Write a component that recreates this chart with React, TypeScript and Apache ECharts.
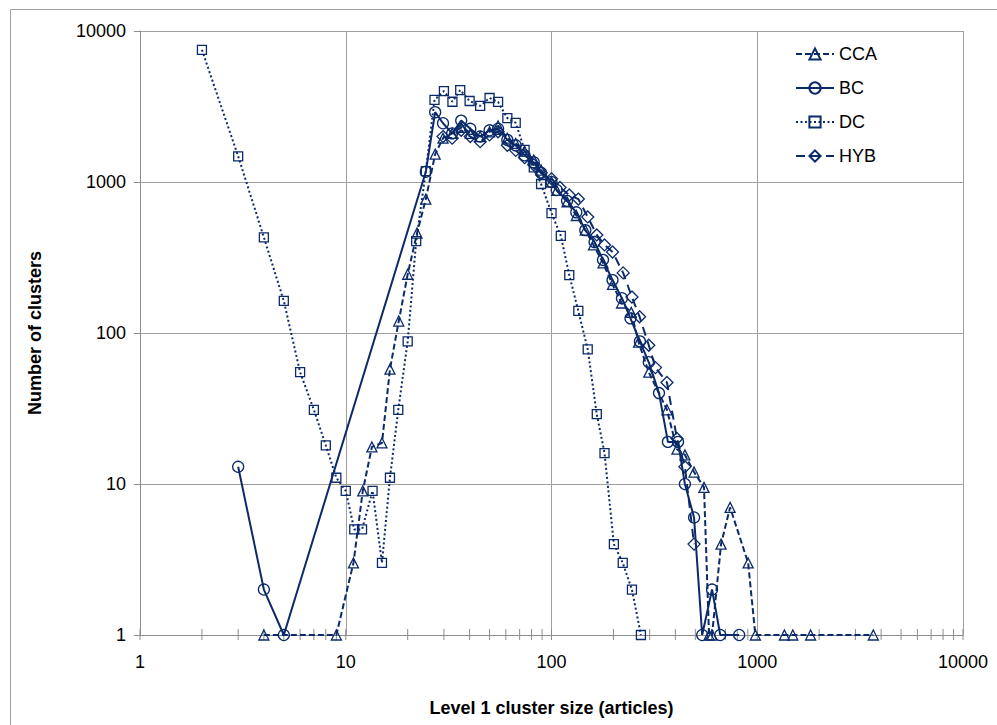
import React, { useEffect, useRef } from "react";
import * as echarts from "echarts";

// ---- Data ----
const ccaX = [4, 9, 10.9, 12.1, 13.4, 15, 16.4, 18.1, 20, 22.2, 24.5, 27.2, 29.7, 32.9, 36.4, 40.3, 45, 50, 55, 61, 67, 74, 82, 89, 100, 106, 119, 132, 146, 160, 178, 198, 219, 244, 265, 297, 364, 407, 445, 493, 551, 583, 603, 667, 738, 903, 979, 1355, 1489, 1817, 3665];
const ccaY = [1, 1, 3, 9, 17.6, 18.7, 57.6, 120, 245, 459, 770, 1530, 1950, 2100, 2300, 2100, 2000, 2150, 2350, 1950, 1800, 1600, 1400, 1200, 1000, 880, 740, 600, 480, 383, 291, 210, 158, 137, 87, 55, 31, 17, 15.6, 12, 9.5, 1, 1, 4, 7, 3, 1, 1, 1, 1, 1];

const bcX = [3, 4, 5, 24.5, 27.2, 29.7, 32.9, 36.4, 40.3, 45, 50, 55, 61, 67, 74, 82, 89, 100, 106, 119, 132, 146, 162, 178, 198, 220, 242, 269, 297, 333, 368, 412, 445, 493, 540, 603, 661, 817];
const bcY = [13, 2, 1, 1170, 2900, 2450, 2100, 2550, 2250, 2000, 2200, 2250, 1900, 1750, 1500, 1350, 1150, 1000, 885, 750, 630, 480, 400, 305, 224, 170, 125, 88, 64, 40, 19, 19, 10, 6, 1, 2, 1, 1];

const dcX = [2, 3, 4, 5, 6, 7, 8, 9, 10, 11, 12, 13.5, 15, 16.4, 18, 20, 22, 24.5, 27, 30, 33, 36, 40, 45, 50, 55, 61, 67, 74, 82, 89, 100, 111, 122, 135, 150, 166, 181, 201, 222, 246, 272];
const dcY = [7500, 1480, 430, 163, 55, 31, 18, 11, 9, 5, 5, 9, 3, 11, 31, 88, 406, 1180, 3500, 4000, 3400, 4060, 3440, 3190, 3600, 3390, 2650, 2460, 1630, 1250, 970, 623, 440, 242, 140, 78, 29, 16, 4, 3, 2, 1];

const hybX = [29.7, 32.9, 36.4, 40.3, 45, 50, 55, 61, 67, 74, 82, 89, 100, 110, 122, 135, 150, 166, 181, 198, 223, 246, 268, 297, 320, 364, 407, 445, 493];
const hybY = [2000, 1950, 2200, 2000, 1850, 2050, 2150, 1750, 1620, 1450, 1300, 1150, 1050, 920, 820, 771, 587, 446, 383, 344, 250, 173, 128, 83, 59, 47, 20, 13, 4];

const xTickLabels = [1, 10, 100, 1000, 10000];
const yTickLabels = [1, 10, 100, 1000, 10000];
const minorMultipliers = [1, 2, 3, 4, 5, 6, 7, 8, 9];

const NAVY = "#0b2a6a";
const FONT = "'Liberation Sans', Arial, sans-serif";

function zip(xs: number[], ys: number[]) {
  return xs.map((x, i) => [x, ys[i]]);
}

export default function App() {
  const ref = useRef<HTMLDivElement>(null);

  useEffect(() => {
    if (!ref.current) return;
    const chart = echarts.init(ref.current, undefined, { renderer: "svg" });

    const tickVals: number[][] = [];
    [1, 10, 100, 1000].forEach((d) => minorMultipliers.forEach((m) => tickVals.push([d * m, 1])));
    tickVals.push([10000, 1]);

    const markerStyle = { color: "rgba(255,255,255,0)", borderColor: NAVY, borderWidth: 1.3 };

    const fmt = (v: number) => {
      const r = Math.round(v);
      return xTickLabels.includes(r) || yTickLabels.includes(r) ? String(r) : "";
    };

    chart.setOption({
      animation: false,
      backgroundColor: "#fff",
      textStyle: { fontFamily: FONT },
      graphic: [
        {
          type: "rect",
          shape: { x: 10.5, y: 9.5, width: 1100, height: 900 },
          style: { fill: "none", stroke: "#a0a0a0", lineWidth: 1 },
          silent: true,
          z: -1,
        },
      ],
      grid: { left: 140, right: 34, top: 31, bottom: 90 },
      legend: {
        orient: "vertical",
        left: 795,
        top: 45,
        itemWidth: 38,
        itemHeight: 14,
        itemGap: 16,
        padding: 0,
        data: ["CCA", "BC", "DC", "HYB"],
        textStyle: { fontSize: 18, color: "#000", fontFamily: FONT },
      },
      xAxis: {
        type: "log",
        logBase: 10,
        min: 1,
        max: 10000,
        name: "Level 1 cluster size (articles)",
        nameLocation: "middle",
        nameGap: 64,
        nameTextStyle: { fontSize: 18, fontWeight: "bold", color: "#000", fontFamily: FONT },
        axisLine: { show: true, lineStyle: { color: "#8c8c8c", width: 1 } },
        axisTick: { show: false },
        axisLabel: { fontSize: 18, color: "#000", margin: 18, formatter: fmt, fontFamily: FONT },
        splitLine: { show: true, lineStyle: { color: "#a0a0a0", width: 1 } },
        minorTick: { show: false },
      },
      yAxis: {
        type: "log",
        logBase: 10,
        min: 1,
        max: 10000,
        name: "Number of clusters",
        nameLocation: "middle",
        nameGap: 96,
        nameTextStyle: { fontSize: 18, fontWeight: "bold", color: "#000", fontFamily: FONT },
        axisLine: { show: true, lineStyle: { color: "#8c8c8c", width: 1 } },
        axisTick: { show: true, inside: false, length: 6, lineStyle: { color: "#8c8c8c" } },
        axisLabel: { fontSize: 18, color: "#000", margin: 14, formatter: fmt, fontFamily: FONT },
        splitLine: { show: true, lineStyle: { color: "#a0a0a0", width: 1 } },
      },
      series: [
        {
          name: "xticks",
          type: "custom",
          silent: true,
          clip: false,
          data: tickVals,
          renderItem: (params: any, api: any) => {
            const p = api.coord([api.value(0), api.value(1)]);
            return {
              type: "line",
              shape: { x1: p[0], y1: p[1] - 6, x2: p[0], y2: p[1] + 5 },
              style: { stroke: "#8c8c8c", lineWidth: 1 },
            };
          },
          z: 1,
        },
        {
          name: "CCA",
          type: "line",
          data: zip(ccaX, ccaY),
          symbol: "triangle",
          symbolSize: [10, 10],
          lineStyle: { color: NAVY, width: 2, type: [6, 3] },
          itemStyle: markerStyle,
          z: 3,
        },
        {
          name: "BC",
          type: "line",
          data: zip(bcX, bcY),
          symbol: "circle",
          symbolSize: 11,
          lineStyle: { color: NAVY, width: 2, type: "solid" },
          itemStyle: markerStyle,
          z: 3,
        },
        {
          name: "DC",
          type: "line",
          data: zip(dcX, dcY),
          symbol: "rect",
          symbolSize: 9,
          lineStyle: { color: NAVY, width: 2, type: [2, 2.5] },
          itemStyle: markerStyle,
          z: 3,
        },
        {
          name: "HYB",
          type: "line",
          data: zip(hybX, hybY),
          symbol: "diamond",
          symbolSize: [12, 12],
          lineStyle: { color: NAVY, width: 2, type: [9, 6] },
          itemStyle: markerStyle,
          z: 3,
        },
      ],
    });

    return () => chart.dispose();
  }, []);

  return (
    <div
      ref={ref}
      style={{ position: "fixed", left: 0, top: 0, width: 997, height: 725, background: "#fff" }}
    />
  );
}
